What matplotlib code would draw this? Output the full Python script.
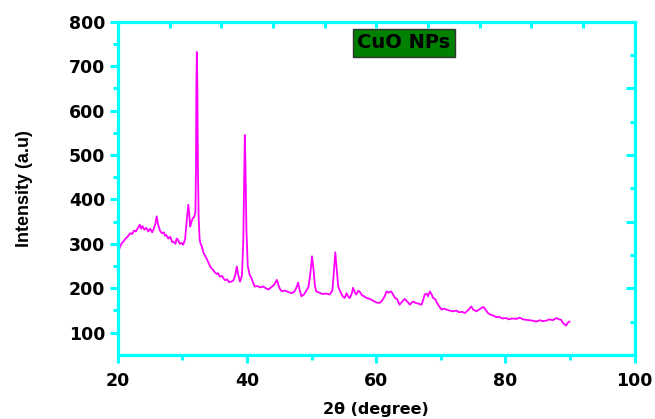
import matplotlib
matplotlib.use("Agg")
import matplotlib.pyplot as plt

# XRD pattern
two_theta = [20.0, 20.3, 20.6, 20.9, 21.2, 21.5, 21.9, 22.2, 22.5, 22.8, 23.1, 23.4, 23.6, 23.8,
             24.1, 24.4, 24.7, 25.0, 25.3, 25.5, 25.8, 26.0, 26.2, 26.5, 26.8, 27.1, 27.3, 27.5,
             27.8, 28.1, 28.4, 28.6, 28.9, 29.1, 29.3, 29.6, 29.9, 30.1, 30.4, 30.7, 30.9, 31.05,
             31.2, 31.4, 31.6, 31.8, 32.0, 32.08, 32.15, 32.22, 32.3, 32.38, 32.5, 32.65, 32.8,
             33.0, 33.3, 33.7, 34.0, 34.4, 34.7, 35.0, 35.3, 35.5, 35.8, 36.1, 36.3, 36.6, 36.9,
             37.2, 37.6, 37.9, 38.2, 38.4, 38.6, 38.9, 39.2, 39.4, 39.55, 39.65, 39.75, 39.9,
             40.1, 40.4, 40.7, 41.0, 41.2, 41.6, 42.0, 42.5, 42.9, 43.3, 43.7, 44.2, 44.6, 44.9,
             45.1, 45.4, 45.8, 46.3, 46.9, 47.3, 47.6, 47.9, 48.1, 48.4, 48.8, 49.2, 49.5, 49.8,
             50.05, 50.3, 50.5, 50.7, 51.2, 51.7, 52.2, 52.8, 53.2, 53.45, 53.65, 53.9, 54.1,
             54.4, 54.8, 55.1, 55.4, 55.7, 55.9, 56.2, 56.4, 56.7, 56.9, 57.2, 57.4, 57.8, 58.1,
             58.5, 59.0, 59.5, 60.0, 60.5, 60.9, 61.3, 61.6, 61.9, 62.3, 62.6, 62.9, 63.2, 63.6,
             64.0, 64.4, 64.8, 65.2, 65.5, 65.7, 66.1, 66.6, 67.0, 67.3, 67.5, 67.8, 68.0, 68.3,
             68.6, 68.8, 69.1, 69.3, 69.6, 69.9, 70.1, 70.5, 70.9, 71.3, 71.9, 72.4, 72.8, 73.3,
             73.7, 74.0, 74.3, 74.7, 75.0, 75.3, 75.5, 75.9, 76.3, 76.6, 77.0, 77.3, 77.8, 78.2,
             78.6, 79.0, 79.5, 80.1, 80.5, 81.0, 81.7, 82.2, 82.7, 83.2, 83.7, 84.2, 84.8, 85.3,
             85.8, 86.3, 86.8, 87.3, 87.9, 88.3, 88.6, 88.9, 89.2, 89.4, 89.6, 89.9]
intensity = [280, 292, 302, 306, 312, 316, 324, 322, 330, 328, 336, 343, 334, 340,
             332, 336, 328, 334, 326, 332, 345, 362, 345, 330, 324, 326, 318, 320,
             312, 316, 304, 305, 300, 312, 309, 300, 302, 298, 310, 360, 388, 365,
             339, 350, 358, 360, 372, 460, 660, 732, 650, 480, 360, 310, 300,
             294, 278, 268, 258, 246, 242, 236, 232, 234, 226, 228, 223, 218, 220,
             214, 215, 218, 232, 249, 232, 215, 228, 300, 440, 545, 470, 330,
             250, 230, 222, 210, 204, 205, 202, 204, 200, 197, 202, 208, 219, 205,
             198, 193, 195, 192, 189, 192, 200, 213, 198, 182, 186, 195, 203, 235,
             272, 240, 205, 193, 190, 187, 188, 186, 195, 240, 281, 240, 205,
             193, 182, 178, 189, 180, 178, 188, 201, 190, 186, 194, 193, 184, 182,
             178, 176, 172, 168, 167, 172, 182, 193, 190, 193, 186, 178, 176, 163,
             170, 176, 170, 163, 168, 170, 167, 165, 163, 176, 186, 188, 182, 193,
             185, 178, 176, 170, 162, 156, 152, 154, 152, 150, 148, 150, 146, 147,
             144, 148, 152, 159, 152, 150, 148, 152, 156, 158, 150, 144, 140, 138,
             135, 136, 132, 133, 130, 132, 131, 134, 130, 129, 128, 127, 125, 128,
             126, 127, 130, 128, 133, 130, 129, 122, 118, 116, 122, 125]

x_ticks = [20, 40, 60, 80, 100]
y_ticks = [100, 200, 300, 400, 500, 600, 700, 800]

cyan = "#00FFFF"
bold_font = "DejaVu Sans"

fig = plt.figure(figsize=(6.55, 4.19), dpi=100)
ax = fig.add_axes([0.180, 0.153, 0.789, 0.795])

ax.plot(two_theta, intensity, color="#FF00FF", linewidth=1.3)

ax.set_xlim(20, 100)
ax.set_ylim(50, 800)
ax.set_xticks(x_ticks)
ax.set_yticks(y_ticks)
ax.set_xticks([30, 50, 70, 90], minor=True)
ax.set_yticks([150, 250, 350, 450, 550, 650, 750], minor=True)

for side in ["left", "bottom", "top", "right"]:
    ax.spines[side].set_color(cyan)
    ax.spines[side].set_linewidth(2.3)
    ax.spines[side].set_capstyle("projecting")

ax.tick_params(which="major", direction="out", length=6, width=2.2, color=cyan,
               pad=3, labelsize=12.5)
ax.tick_params(which="minor", direction="out", length=3.5, width=2.2, color=cyan)
ax.tick_params(axis="x", which="major", pad=6)
for lab in ax.get_xticklabels() + ax.get_yticklabels():
    lab.set_fontweight("bold")
    lab.set_family(bold_font)

ax.set_xlabel("2\u03b8 (degree)", fontsize=11.5, fontweight="bold", family=bold_font)
ax.set_ylabel("Intensity (a.u)", fontsize=13, fontweight="bold", family="Liberation Sans")
ax.xaxis.set_label_coords(0.5, -0.14)
ax.yaxis.set_label_coords(-0.165, 0.5)

# top and right frame axes have their own even divisions
top = ax.twiny()
top.set_xlim(0, 10)
top.set_xticks(range(1, 10))
top.tick_params(axis="x", direction="in", length=4, width=2.2, color=cyan, labeltop=False)
right = ax.twinx()
right.set_ylim(0, 10)
right.set_yticks([2, 4, 6, 8])
right.set_yticks([1, 3, 5, 7, 9], minor=True)
right.tick_params(axis="y", which="major", direction="in", length=6.5, width=2.2,
                  color=cyan, labelright=False)
right.tick_params(axis="y", which="minor", direction="in", length=3.5, width=2.2,
                  color=cyan, labelright=False)
for a in (top, right):
    for side in a.spines:
        a.spines[side].set_visible(False)

ax.text(0.553, 0.937, "CuO NPs", transform=ax.transAxes, ha="center", va="center",
        fontsize=14, fontweight="bold", family=bold_font, color="black",
        bbox=dict(boxstyle="square,pad=0.22", facecolor="#008000", edgecolor="#333333",
                  linewidth=1.0), zorder=5)

fig.savefig("out.png", dpi=100)
